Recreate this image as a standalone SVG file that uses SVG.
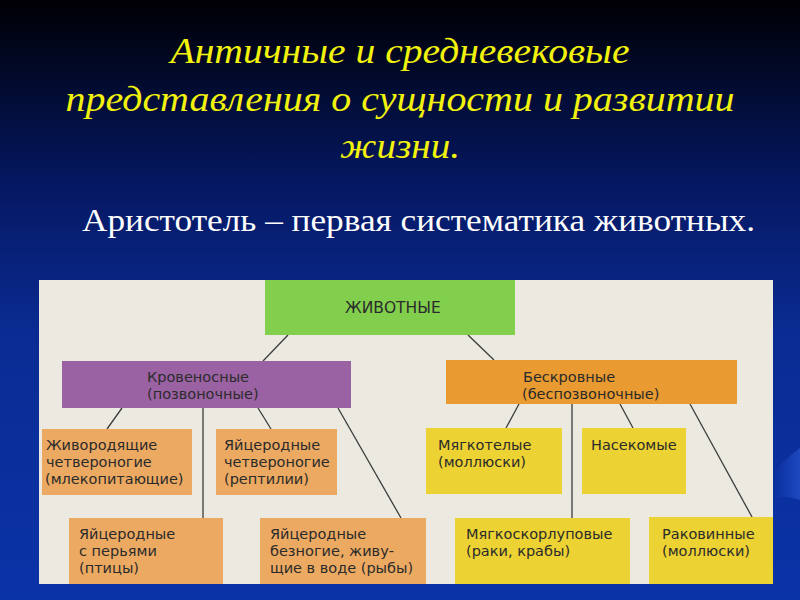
<svg xmlns="http://www.w3.org/2000/svg" width="800" height="600" viewBox="0 0 800 600">
<defs>
<linearGradient id="bg" x1="0" y1="0" x2="0" y2="1">
<stop offset="0" stop-color="#000004"/>
<stop offset="0.3" stop-color="#051760"/>
<stop offset="0.55" stop-color="#0a2b92"/>
<stop offset="1" stop-color="#0b33a8"/>
</linearGradient>
<linearGradient id="streak" x1="0" y1="0" x2="1" y2="0">
<stop offset="0" stop-color="#2a5ad8" stop-opacity="0"/>
<stop offset="1" stop-color="#2a5ad8" stop-opacity="0.6"/>
</linearGradient>
<style>
.title{font-family:"Liberation Serif","DejaVu Serif",serif;font-style:italic;font-size:36px;fill:#f2f20c;text-anchor:middle}
.sub{font-family:"Liberation Serif","DejaVu Serif",serif;font-size:31px;fill:#ffffff}
.lbl{font-family:"DejaVu Sans","Liberation Sans",sans-serif;font-size:14.5px;fill:#2b2b2b}
.big{font-size:15.5px}
.conn line{stroke:#3c3c3c;stroke-width:1.3}
.green{fill:#82cf4e}
.purple{fill:#9b62a3}
.orange{fill:#e99a30}
.salmon{fill:#eca962}
.yellow{fill:#ecd232}
</style>
</defs>
<rect width="800" height="600" fill="url(#bg)"/>
<path d="M775 470 Q790 455 800 448 L800 500 Q788 495 775 498 Z" fill="url(#streak)"/>

<text class="title" x="400" y="63" textLength="459" lengthAdjust="spacingAndGlyphs">Античные и средневековые</text>
<text class="title" x="400" y="111" textLength="669" lengthAdjust="spacingAndGlyphs">представления о сущности и развитии</text>
<text class="title" x="400" y="158" textLength="120" lengthAdjust="spacingAndGlyphs">жизни.</text>
<text class="sub" x="82" y="231" textLength="673" lengthAdjust="spacingAndGlyphs">Аристотель – первая систематика животных.</text>

<rect id="panel" x="39" y="280" width="734" height="304" fill="#ece9e1"/>

<g class="conn" id="connectors">
<line x1="288" y1="335" x2="263" y2="361"/>
<line x1="468" y1="335" x2="494" y2="360"/>
<line x1="122" y1="408" x2="107" y2="429"/>
<line x1="203" y1="408" x2="203" y2="518"/>
<line x1="258" y1="408" x2="271" y2="429"/>
<line x1="338" y1="408" x2="401" y2="518"/>
<line x1="519" y1="404" x2="506" y2="428"/>
<line x1="572" y1="404" x2="572" y2="518"/>
<line x1="620" y1="404" x2="633" y2="428"/>
<line x1="690" y1="404" x2="752" y2="517"/>
</g>

<g id="animals"><rect class="green" x="265" y="280" width="250" height="55"/><text class="lbl big" x="345" y="313">ЖИВОТНЫЕ</text></g>
<g id="blooded"><rect class="purple" x="62" y="361" width="289" height="47"/><text class="lbl" x="147" y="382">Кровеносные</text><text class="lbl" x="147" y="399">(позвоночные)</text></g>
<g id="bloodless"><rect class="orange" x="446" y="360" width="291" height="44"/><text class="lbl" x="523" y="382">Бескровные</text><text class="lbl" x="522" y="399">(беспозвоночные)</text></g>

<g id="mammals"><rect class="salmon" x="42" y="429" width="150" height="66"/><text class="lbl" x="46" y="450">Живородящие</text><text class="lbl" x="46" y="467">четвероногие</text><text class="lbl" x="45" y="484">(млекопитающие)</text></g>
<g id="reptiles"><rect class="salmon" x="216" y="429" width="121" height="66"/><text class="lbl" x="224" y="450">Яйцеродные</text><text class="lbl" x="224" y="467">четвероногие</text><text class="lbl" x="224" y="484">(рептилии)</text></g>
<g id="birds"><rect class="salmon" x="69" y="518" width="154" height="66"/><text class="lbl" x="79" y="539">Яйцеродные</text><text class="lbl" x="79" y="556">с перьями</text><text class="lbl" x="79" y="573">(птицы)</text></g>
<g id="fish"><rect class="salmon" x="260" y="518" width="166" height="66"/><text class="lbl" x="270" y="539">Яйцеродные</text><text class="lbl" x="270" y="556">безногие, живу-</text><text class="lbl" x="270" y="573">щие в воде (рыбы)</text></g>

<g id="molluscs"><rect class="yellow" x="426" y="428" width="136" height="66"/><text class="lbl" x="438" y="450">Мягкотелые</text><text class="lbl" x="438" y="467">(моллюски)</text></g>
<g id="insects"><rect class="yellow" x="582" y="428" width="104" height="66"/><text class="lbl" x="591" y="450">Насекомые</text></g>
<g id="crustaceans"><rect class="yellow" x="455" y="518" width="175" height="66"/><text class="lbl" x="466" y="539">Мягкоскорлуповые</text><text class="lbl" x="466" y="556">(раки, крабы)</text></g>
<g id="shells"><rect class="yellow" x="649" y="517" width="124" height="67"/><text class="lbl" x="662" y="539">Раковинные</text><text class="lbl" x="662" y="556">(моллюски)</text></g>
</svg>
